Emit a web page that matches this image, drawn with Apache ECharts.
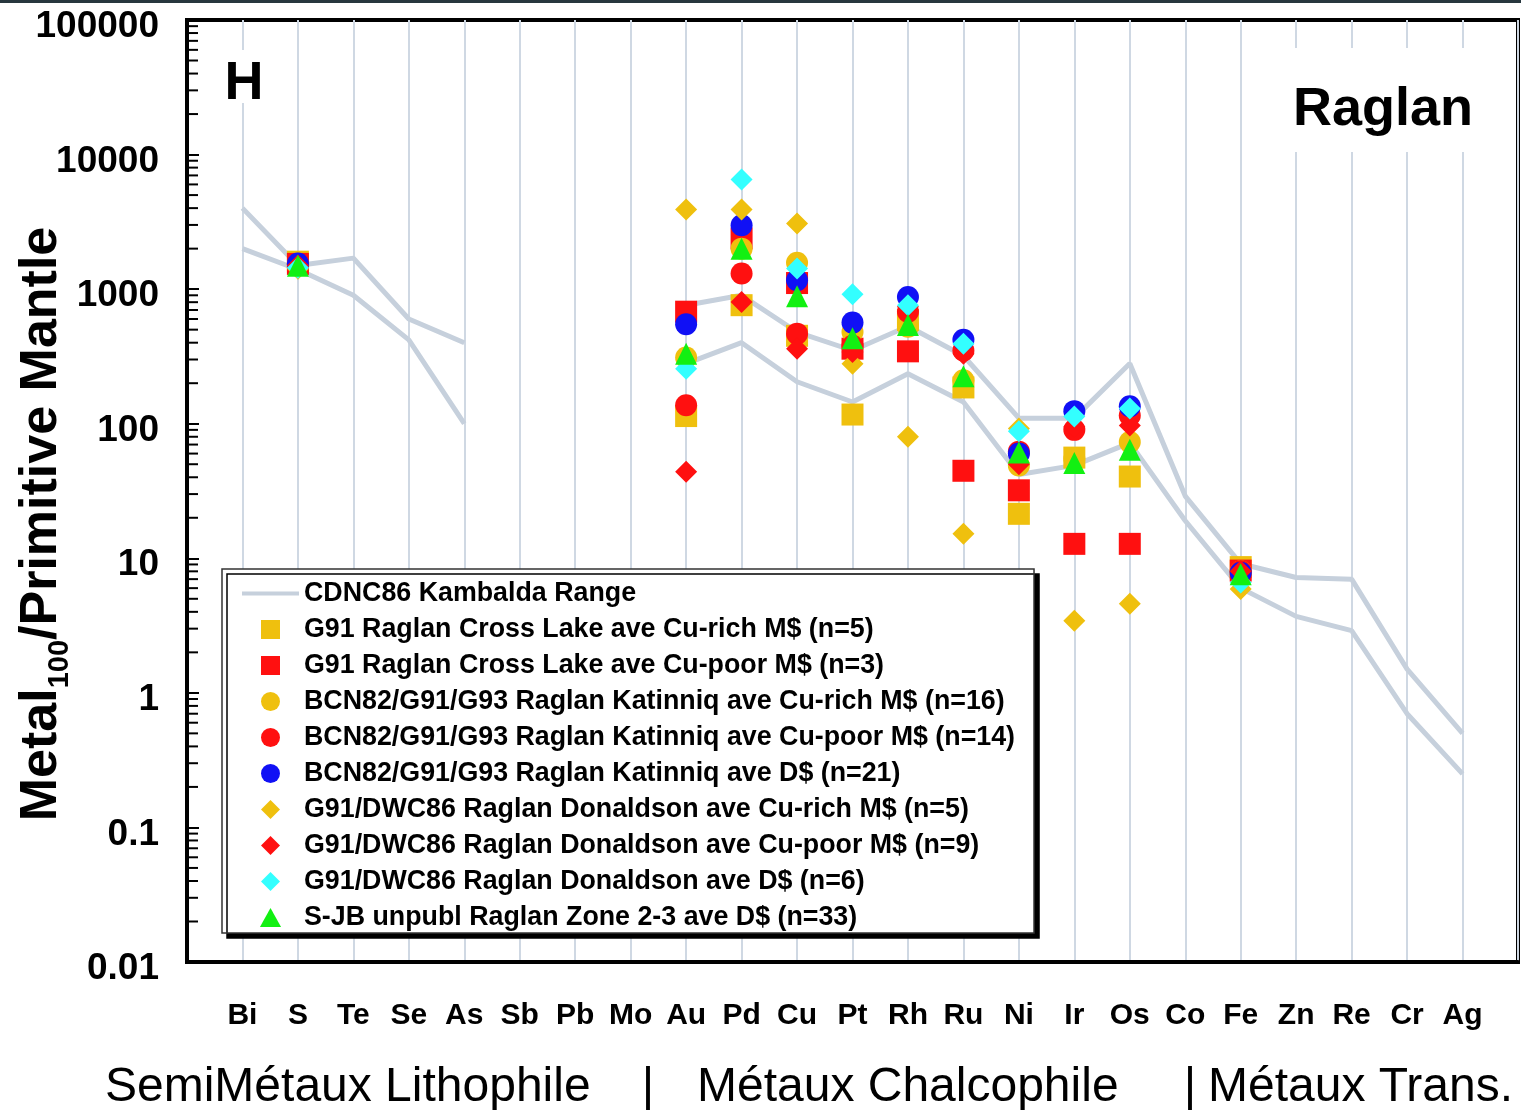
<!DOCTYPE html>
<html>
<head>
<meta charset="utf-8">
<script src="https://cdn.jsdelivr.net/npm/echarts@6/dist/echarts.min.js"></script>
<style>
  html, body { margin: 0; padding: 0; background: #ffffff; }
  #chart { width: 1521px; height: 1110px; }
</style>
</head>
<body>
<div id="chart"></div>
<script>
// Element order along the x axis (Bi ... Ag)
const elements = ['Bi','S','Te','Se','As','Sb','Pb','Mo','Au','Pd','Cu','Pt','Rh','Ru','Ni','Ir','Os','Co','Fe','Zn','Re','Cr','Ag'];
const yTickLabels = ['0.01','0.1','1','10','100','1000','10000','100000'];

// CDNC86 Kambalda range (upper and lower bounds)
const kambaldaUpper = [4000,1500,1700,600,400,null,null,null,760,900,480,350,530,320,110,110,280,29,9.1,7.2,7.0,1.5,0.5];
const kambaldaLower = [2000,1400,900,420,100,null,null,null,280,400,205,145,235,145,42,49,72,19,6.0,3.7,2.9,0.7,0.25];

//                      Bi   S    Te   Se   As   Sb   Pb   Mo   Au   Pd    Cu    Pt   Rh   Ru   Ni   Ir   Os   Co   Fe   Zn   Re   Cr   Ag
const crossLakeCuRich = [null,1600,null,null,null,null,null,null,114, 760,  450,  117, 590, 186, 21.4,56,  40.5,null,8.6, null,null,null,null];
const crossLakeCuPoor = [null,1540,null,null,null,null,null,null,680, 2380, 1110, 361, 345, 44.7,32,  12.8,12.8,null,8.1, null,null,null,null];
const katinniqCuRich  = [null,1530,null,null,null,null,null,null,310, 2000, 1570, 480, 525, 210, 49,  55,  73,  null,8.0, null,null,null,null];
const katinniqCuPoor  = [null,1530,null,null,null,null,null,null,137, 1305, 467,  380, 680, 350, 62,  90,  115, null,8.0, null,null,null,null];
const katinniqD       = [null,1550,null,null,null,null,null,null,548, 2985, 1164, 564, 875, 421, 60,  124, 135, null,7.8, null,null,null,null];
const donaldsonCuRich = [null,1420,null,null,null,null,null,null,3900,3900, 3070, 279, 80,  15.2,92,  3.44,4.6, null,5.9, null,null,null,null];
const donaldsonCuPoor = [null,1500,null,null,null,null,null,null,44,  803,  361,  341, 740, 331, 50,  95,  97,  null,8.0, null,null,null,null];
const donaldsonD      = [null,1440,null,null,null,null,null,null,256, 6530, 1422, 916, 760, 393, 88,  113, 130, null,6.6, null,null,null,null];
const zone23D         = [null,1490,null,null,null,null,null,null,331, 2000, 885,  431, 542, 225, 61,  51,  64,  null,7.6, null,null,null,null];

const kambaldaName = 'CDNC86 Kambalda Range';

// legend glyphs (paths keep their aspect inside the legend slot)
const ICONS = {
  rect: 'path://M0,0H20V20H0Z',
  circle: 'path://M10,0A10,10,0,1,1,10,20A10,10,0,1,1,10,0Z',
  diamond: 'path://M10,0L20,10L10,20L0,10Z',
  triangle: 'path://M10,0L20,18L0,18Z',
  line: 'path://M0,0H57V4H0Z'
};

const pointSeries = [
  { name: 'G91 Raglan Cross Lake ave Cu-rich M$ (n=5)',           values: crossLakeCuRich, symbol: 'rect',     color: '#EFC00E' },
  { name: 'G91 Raglan Cross Lake ave Cu-poor M$ (n=3)',           values: crossLakeCuPoor, symbol: 'rect',     color: '#FF1010' },
  { name: 'BCN82/G91/G93 Raglan Katinniq ave Cu-rich M$ (n=16)',  values: katinniqCuRich,  symbol: 'circle',   color: '#EFC00E' },
  { name: 'BCN82/G91/G93 Raglan Katinniq ave Cu-poor M$ (n=14)',  values: katinniqCuPoor,  symbol: 'circle',   color: '#FF1010' },
  { name: 'BCN82/G91/G93 Raglan Katinniq ave D$ (n=21)',          values: katinniqD,       symbol: 'circle',   color: '#1010F5' },
  { name: 'G91/DWC86 Raglan Donaldson ave Cu-rich M$ (n=5)',      values: donaldsonCuRich, symbol: 'diamond',  color: '#EFC00E' },
  { name: 'G91/DWC86 Raglan Donaldson ave Cu-poor M$ (n=9)',      values: donaldsonCuPoor, symbol: 'diamond',  color: '#FF1010' },
  { name: 'G91/DWC86 Raglan Donaldson ave D$ (n=6)',              values: donaldsonD,      symbol: 'diamond',  color: '#33FFFF' },
  { name: 'S-JB unpubl Raglan Zone 2-3 ave D$ (n=33)',            values: zone23D,         symbol: 'triangle', color: '#12F012' }
];

const FONT = '"Liberation Sans", Arial, Helvetica, sans-serif';
const RANGE_COLOR = '#C6D0DC';

// category slots: an empty slot at each end of the element list
const categories = [''].concat(elements, ['']);

function toPairs(values) {
  return values.map((v, i) => [elements[i], v == null ? '-' : v]);
}
function toPoints(values) {
  const out = [];
  values.forEach((v, i) => { if (v != null) out.push([elements[i], v]); });
  return out;
}

// minor log ticks (2..9 within each decade) along the value axis
const minorTickValues = [];
for (let k = -2; k <= 4; k++) {
  for (let m = 2; m <= 9; m++) minorTickValues.push(m * Math.pow(10, k));
}

const series = [];
[kambaldaUpper, kambaldaLower].forEach(vals => {
  series.push({
    name: kambaldaName,
    type: 'line',
    data: toPairs(vals),
    symbol: 'none',
    connectNulls: false,
    color: RANGE_COLOR,
    lineStyle: { color: RANGE_COLOR, width: 5 },
    itemStyle: { color: RANGE_COLOR },
    z: 1,
    silent: true
  });
});
pointSeries.forEach(s => {
  series.push({
    name: s.name,
    type: 'scatter',
    data: toPoints(s.values),
    symbol: s.symbol,
    symbolSize: 22,
    itemStyle: { color: s.color, opacity: 1 },
    z: 2,
    silent: true
  });
});
series.push({
  type: 'custom',
  silent: true,
  z: 3,
  data: minorTickValues.map(v => [0, v]),
  renderItem: function (params, api) {
    const p = api.coord([0, api.value(1)]);
    return {
      type: 'line',
      shape: { x1: p[0], y1: p[1], x2: p[0] + 11, y2: p[1] },
      style: { stroke: '#000', lineWidth: 2 }
    };
  }
});

const legendData = [{ name: kambaldaName, icon: ICONS.line }]
  .concat(pointSeries.map(s => ({ name: s.name, icon: ICONS[s.symbol] })));

const option = {
  animation: false,
  backgroundColor: '#ffffff',
  grid: {
    left: 187, top: 20, width: 1337, height: 942,
    show: true, borderColor: '#000', borderWidth: 4, backgroundColor: 'transparent'
  },
  xAxis: {
    type: 'category',
    data: categories,
    boundaryGap: false,
    axisLine: { lineStyle: { color: '#000', width: 4 } },
    axisTick: { show: false },
    axisLabel: { interval: 0, margin: 39, color: '#000', fontFamily: FONT, fontWeight: 'bold', fontSize: 30 },
    splitLine: { show: true, lineStyle: { color: '#CFD8E3', width: 2 } }
  },
  yAxis: {
    type: 'log',
    logBase: 10,
    min: 0.01,
    max: 100000,
    splitNumber: 7,
    axisLine: { show: true, lineStyle: { color: '#000', width: 4 } },
    axisTick: { show: true, inside: true, length: 12, lineStyle: { color: '#000', width: 2 } },
    axisLabel: {
      margin: 28, color: '#000', fontFamily: FONT, fontWeight: 'bold', fontSize: 37,
      verticalAlign: 'top', lineHeight: 14,
      formatter: v => yTickLabels[Math.round(Math.log10(v)) + 2]
    },
    splitLine: { show: false }
  },
  legend: {
    orient: 'vertical',
    left: 222,
    top: 569,
    padding: [11, 19, 2, 20],
    itemWidth: 57,
    itemHeight: 19,
    itemGap: 9,
    backgroundColor: '#ffffff',
    borderColor: '#333333',
    borderWidth: 1.5,
    shadowColor: '#000000',
    shadowBlur: 0,
    shadowOffsetX: 5,
    shadowOffsetY: 5,
    selectedMode: false,
    textStyle: { color: '#000', fontFamily: FONT, fontWeight: 'bold', fontSize: 26.8, lineHeight: 27 },
    data: legendData
  },
  graphic: [
    { type: 'rect', z: 10, shape: { x: 0, y: 0, width: 1521, height: 3 }, style: { fill: '#28373E' } },
    // white panels behind the two headings
    { type: 'rect', z: 9, shape: { x: 224, y: 50, width: 40, height: 53 }, style: { fill: '#ffffff' } },
    { type: 'rect', z: 9, shape: { x: 1290, y: 48, width: 186, height: 104 }, style: { fill: '#ffffff' } },
    {
      type: 'text', z: 10, x: 244, y: 84,
      style: { text: 'H', font: 'bold 54px ' + FONT, fill: '#000', align: 'center', verticalAlign: 'middle' }
    },
    {
      type: 'text', z: 10, x: 1383, y: 110,
      style: { text: 'Raglan', font: 'bold 54px ' + FONT, fill: '#000', align: 'center', verticalAlign: 'middle' }
    },
    {
      type: 'text', z: 10, x: 42, y: 524, rotation: Math.PI / 2,
      style: {
        text: '{m|Metal}{s|100}{m|/Primitive Mantle}',
        align: 'center', verticalAlign: 'middle',
        rich: {
          m: { font: 'bold 52px ' + FONT, fill: '#000', lineHeight: 52, verticalAlign: 'middle' },
          s: { font: 'bold 29px ' + FONT, fill: '#000', lineHeight: 64, verticalAlign: 'bottom' }
        }
      }
    },
    { type: 'text', z: 10, x: 105, y: 1088, style: { text: 'SemiMétaux Lithophile', font: '48px ' + FONT, fill: '#000', align: 'left', verticalAlign: 'middle' } },
    { type: 'text', z: 10, x: 648, y: 1088, style: { text: '|', font: '48px ' + FONT, fill: '#000', align: 'center', verticalAlign: 'middle' } },
    { type: 'text', z: 10, x: 697, y: 1088, style: { text: 'Métaux Chalcophile', font: '48px ' + FONT, fill: '#000', align: 'left', verticalAlign: 'middle' } },
    { type: 'text', z: 10, x: 1190, y: 1088, style: { text: '|', font: '48px ' + FONT, fill: '#000', align: 'center', verticalAlign: 'middle' } },
    { type: 'text', z: 10, x: 1208, y: 1088, style: { text: 'Métaux Trans.', font: '48px ' + FONT, fill: '#000', align: 'left', verticalAlign: 'middle' } }
  ],
  series: series
};

const chart = echarts.init(document.getElementById('chart'), null, { renderer: 'canvas', width: 1521, height: 1110 });
chart.setOption(option);
</script>
</body>
</html>
